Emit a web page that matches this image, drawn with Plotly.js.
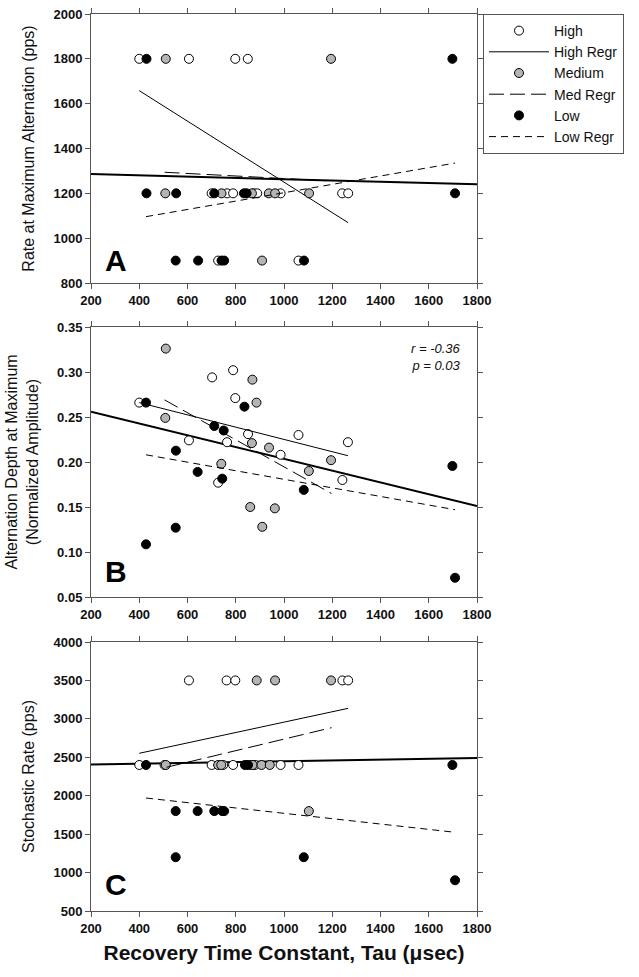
<!DOCTYPE html>
<html>
<head>
<meta charset="utf-8">
<script src="https://cdn.plot.ly/plotly-3.0.1.min.js"></script>
<style>html,body{margin:0;padding:0;background:#fff;}#chart{width:639px;height:977px;}</style>
</head>
<body>
<div id="chart"></div>
<script>
// ---------- Panel A: Rate at Maximum Alternation (pps) ----------
const highA_x = [400, 606, 798, 850, 700, 764, 789, 875, 889, 986, 1241, 1266, 727, 1060];
const highA_y = [1800, 1800, 1800, 1800, 1200, 1200, 1200, 1200, 1200, 1200, 1200, 1200, 900, 900];
const medA_x = [510, 1195, 508, 741, 867, 937, 963, 1104, 909];
const medA_y = [1800, 1800, 1200, 1200, 1200, 1200, 1200, 1200, 900];
const lowA_x = [430, 1698, 430, 553, 711, 834, 845, 1709, 551, 644, 741, 752, 1083];
const lowA_y = [1800, 1800, 1200, 1200, 1200, 1200, 1200, 1200, 900, 900, 900, 900, 900];
const allRegA_x = [200, 1800], allRegA_y = [1286, 1240];
const highRegA_x = [400, 1266], highRegA_y = [1658, 1069];
const medRegA_x = [505, 1195], medRegA_y = [1294, 1255];
const lowRegA_x = [428, 1709], lowRegA_y = [1096, 1335];

// ---------- Panel B: Alternation Depth at Maximum ----------
const highB_x = [400, 606, 702, 727, 764, 789, 798, 851, 986, 1060, 1242, 1265];
const highB_y = [0.266, 0.224, 0.294, 0.177, 0.222, 0.302, 0.271, 0.231, 0.208, 0.230, 0.180, 0.222];
const medB_x = [510, 508, 740, 860, 867, 869, 886, 910, 938, 962, 1103, 1195];
const medB_y = [0.326, 0.249, 0.198, 0.150, 0.221, 0.2915, 0.266, 0.128, 0.216, 0.1485, 0.190, 0.202];
const lowB_x = [428, 428, 551, 552, 642, 711, 744, 750, 836, 1082, 1698, 1709];
const lowB_y = [0.266, 0.1085, 0.127, 0.2126, 0.189, 0.240, 0.1815, 0.235, 0.2615, 0.169, 0.1956, 0.0714];
const allRegB_x = [200, 1800], allRegB_y = [0.256, 0.151];
const highRegB_x = [400, 1265], highRegB_y = [0.266, 0.207];
const medRegB_x = [505, 1197], medRegB_y = [0.269, 0.165];
const lowRegB_x = [428, 1709], lowRegB_y = [0.208, 0.147];

// ---------- Panel C: Stochastic Rate (pps) ----------
const highC_x = [606, 762, 798, 1242, 1266, 400, 505, 700, 748, 789, 866, 880, 986, 1060];
const highC_y = [3500, 3500, 3500, 3500, 3500, 2400, 2400, 2400, 2400, 2400, 2400, 2400, 2400, 2400];
const medC_x = [887, 963, 1195, 510, 727, 740, 870, 907, 941, 1103];
const medC_y = [3500, 3500, 3500, 2400, 2400, 2400, 2400, 2400, 2400, 1800];
const lowC_x = [428, 838, 851, 1698, 551, 642, 711, 744, 752, 551, 1082, 1709];
const lowC_y = [2400, 2400, 2400, 2400, 1800, 1800, 1800, 1800, 1800, 1200, 1200, 900];
const allRegC_x = [200, 1800], allRegC_y = [2405, 2490];
const highRegC_x = [400, 1266], highRegC_y = [2552, 3137];
const medRegC_x = [513, 1197], medRegC_y = [2370, 2885];
const lowRegC_x = [428, 1709], lowRegC_y = [1970, 1524];

// ---------- Labels ----------
const groupNames = ['High', 'High Regr', 'Medium', 'Med Regr', 'Low', 'Low Regr'];
const xTickVals = [200, 400, 600, 800, 1000, 1200, 1400, 1600, 1800];
const yTickA = [800, 1000, 1200, 1400, 1600, 1800, 2000];
const yTickB = [0.05, 0.10, 0.15, 0.20, 0.25, 0.30, 0.35];
const yTickC = [500, 1000, 1500, 2000, 2500, 3000, 3500, 4000];
const xTitle = 'Recovery Time Constant, Tau (\u03bcsec)';
const yTitleA = 'Rate at Maximum Alternation (pps)';
const yTitleB = 'Alternation Depth at Maximum<br>(Normalized Amplitude)';
const yTitleC = 'Stochastic Rate (pps)';
const panelLetters = ['A', 'B', 'C'];
const statText = '<i>r = -0.36</i><br><i>p = 0.03</i>';

// ---------- Styles ----------
const FONT = 'Liberation Sans, Arial, sans-serif';
const markerStyle = {
  high: {symbol: 'circle', size: 9, color: '#ffffff', line: {color: '#000', width: 1}},
  med:  {symbol: 'circle', size: 9, color: '#b4b4b4', line: {color: '#000', width: 1}},
  low:  {symbol: 'circle', size: 9, color: '#000000', line: {color: '#000', width: 1}}
};
const lineStyle = {
  all:  {color: '#000', width: 2, dash: 'solid'},
  high: {color: '#000', width: 1, dash: 'solid'},
  med:  {color: '#000', width: 1, dash: '15px,6px'},
  low:  {color: '#000', width: 1, dash: '7px,5px'}
};

function panelTraces(ax, ay, d, showLeg) {
  const base = {xaxis: ax, yaxis: ay, hoverinfo: 'skip'};
  return [
    Object.assign({}, base, {type: 'scatter', mode: 'lines', x: d.allX, y: d.allY, line: lineStyle.all, showlegend: false}),
    Object.assign({}, base, {type: 'scatter', mode: 'markers', x: d.hx, y: d.hy, marker: markerStyle.high, name: groupNames[0], showlegend: showLeg}),
    Object.assign({}, base, {type: 'scatter', mode: 'lines', x: d.hrx, y: d.hry, line: lineStyle.high, name: groupNames[1], showlegend: showLeg}),
    Object.assign({}, base, {type: 'scatter', mode: 'markers', x: d.mx, y: d.my, marker: markerStyle.med, name: groupNames[2], showlegend: showLeg}),
    Object.assign({}, base, {type: 'scatter', mode: 'lines', x: d.mrx, y: d.mry, line: lineStyle.med, name: groupNames[3], showlegend: showLeg}),
    Object.assign({}, base, {type: 'scatter', mode: 'markers', x: d.lx, y: d.ly, marker: markerStyle.low, name: groupNames[4], showlegend: showLeg}),
    Object.assign({}, base, {type: 'scatter', mode: 'lines', x: d.lrx, y: d.lry, line: lineStyle.low, name: groupNames[5], showlegend: showLeg})
  ];
}

const data = [].concat(
  panelTraces('x', 'y', {allX: allRegA_x, allY: allRegA_y, hx: highA_x, hy: highA_y, hrx: highRegA_x, hry: highRegA_y,
    mx: medA_x, my: medA_y, mrx: medRegA_x, mry: medRegA_y, lx: lowA_x, ly: lowA_y, lrx: lowRegA_x, lry: lowRegA_y}, true),
  panelTraces('x2', 'y2', {allX: allRegB_x, allY: allRegB_y, hx: highB_x, hy: highB_y, hrx: highRegB_x, hry: highRegB_y,
    mx: medB_x, my: medB_y, mrx: medRegB_x, mry: medRegB_y, lx: lowB_x, ly: lowB_y, lrx: lowRegB_x, lry: lowRegB_y}, false),
  panelTraces('x3', 'y3', {allX: allRegC_x, allY: allRegC_y, hx: highC_x, hy: highC_y, hrx: highRegC_x, hry: highRegC_y,
    mx: medC_x, my: medC_y, mrx: medRegC_x, mry: medRegC_y, lx: lowC_x, ly: lowC_y, lrx: lowRegC_x, lry: lowRegC_y}, false)
);

const W = 639, H = 977;
const xDom = [91 / W, 477 / W];
function yDom(top, bottom) { return [1 - bottom / H, 1 - top / H]; }

const axisCommon = {
  showgrid: false, zeroline: false, showline: true, linecolor: '#555', linewidth: 1,
  mirror: 'ticks', ticks: 'outside', ticklen: 5, tickwidth: 1, tickcolor: '#555',
  tickfont: {family: FONT, size: 13, weight: 'bold', color: '#111'}, automargin: false
};
function xAxis(anchor, title) {
  const a = Object.assign({}, axisCommon, {domain: xDom, anchor: anchor, range: [200, 1800],
    tickmode: 'array', tickvals: xTickVals, ticktext: xTickVals.map(String)});
  if (title) a.title = {text: title, font: {family: FONT, size: 21, weight: 'bold', color: '#111'}, standoff: 10};
  return a;
}
function yAxis(anchor, dom, range, ticks, fmt, title, standoff) {
  return Object.assign({}, axisCommon, {domain: dom, anchor: anchor, range: range,
    tickmode: 'array', tickvals: ticks, ticktext: ticks.map(v => fmt(v)),
    title: {text: title, font: {family: FONT, size: 16, color: '#111'}, standoff: standoff}});
}

const layout = {
  width: W, height: H,
  margin: {l: 0, r: 0, t: 0, b: 0},
  paper_bgcolor: '#fff', plot_bgcolor: '#fff',
  showlegend: true,
  legend: {x: 483 / W, y: 1 - 14 / H, xanchor: 'left', yanchor: 'top',
    bgcolor: '#fff', bordercolor: '#555', borderwidth: 1,
    font: {family: FONT, size: 14, color: '#111'}, itemwidth: 60, tracegroupgap: 0},
  xaxis: xAxis('y', null),
  yaxis: yAxis('x', yDom(14, 283), [800, 2000], yTickA, v => String(v), yTitleA, 14),
  xaxis2: xAxis('y2', null),
  yaxis2: yAxis('x2', yDom(327, 597), [0.05, 0.35], yTickB, v => v.toFixed(2), yTitleB, 14),
  xaxis3: xAxis('y3', xTitle),
  yaxis3: yAxis('x3', yDom(642, 911), [500, 4000], yTickC, v => String(v), yTitleC, 14),
  annotations: [
    {xref: 'x domain', yref: 'y domain', x: 0.03, y: 0.082, xanchor: 'left', yanchor: 'middle', showarrow: false,
      text: panelLetters[0], font: {family: FONT, size: 30, weight: 'bold', color: '#000'}},
    {xref: 'x2 domain', yref: 'y2 domain', x: 0.03, y: 0.094, xanchor: 'left', yanchor: 'middle', showarrow: false,
      text: panelLetters[1], font: {family: FONT, size: 30, weight: 'bold', color: '#000'}},
    {xref: 'x3 domain', yref: 'y3 domain', x: 0.03, y: 0.097, xanchor: 'left', yanchor: 'middle', showarrow: false,
      text: panelLetters[2], font: {family: FONT, size: 30, weight: 'bold', color: '#000'}},
    {xref: 'x2 domain', yref: 'y2 domain', x: 0.964, y: 0.955, xanchor: 'right', yanchor: 'top', align: 'right', showarrow: false,
      text: statText, font: {family: FONT, size: 13, color: '#111'}}
  ]
};

Plotly.newPlot('chart', data, layout, {staticPlot: true, displayModeBar: false});
</script>
</body>
</html>
